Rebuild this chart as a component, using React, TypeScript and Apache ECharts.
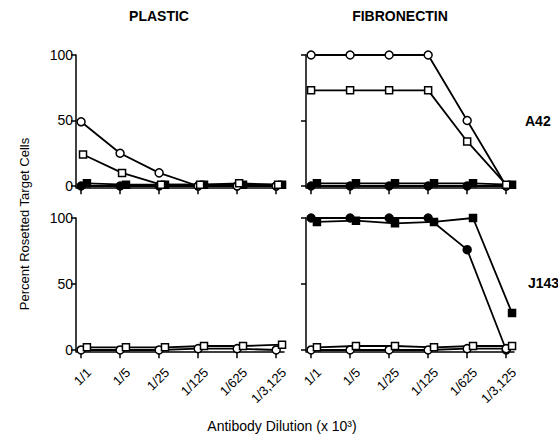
import React, { useEffect, useRef } from "react";
import * as echarts from "echarts";

const xLabels = ["1/1", "1/5", "1/25", "1/125", "1/625", "1/3,125"];
const yTicks = [0, 50, 100];
const panelTitles = ["PLASTIC", "FIBRONECTIN"];
const rowLabels = ["A42", "J143"];

// Plastic / A42
const plasticA42OpenCircle = [49, 25, 10, 0, 0, 0];
const plasticA42OpenSquare = [24, 10, 1, 1, 2, 1];
const plasticA42FilledCircle = [0, 0, 0, 0, 0, 0];
const plasticA42FilledSquare = [2, 1, 1, 1, 1, 1];
// Fibronectin / A42
const fibroA42OpenCircle = [100, 100, 100, 100, 50, 0];
const fibroA42OpenSquare = [73, 73, 73, 73, 34, 1];
const fibroA42FilledCircle = [0, 0, 0, 0, 0, 0];
const fibroA42FilledSquare = [2, 2, 2, 2, 2, 1];
// Plastic / J143
const plasticJ143OpenCircle = [0, 0, 0, 1, 1, 0];
const plasticJ143OpenSquare = [2, 2, 2, 3, 3, 4];
// Fibronectin / J143
const fibroJ143FilledCircle = [100, 100, 100, 100, 76, 0];
const fibroJ143FilledSquare = [97, 98, 96, 97, 100, 28];
const fibroJ143OpenCircle = [0, 0, 0, 0, 1, 1];
const fibroJ143OpenSquare = [2, 3, 3, 2, 3, 3];

const FONT = "'Liberation Sans Narrow', 'Liberation Sans', Arial, sans-serif";

export default function App() {
  const ref = useRef<HTMLDivElement>(null);
  useEffect(() => {
    if (!ref.current) return;
    const chart = echarts.init(ref.current, undefined, { renderer: "svg" });
    const W = 208;
    const grids = [
      { left: 76, top: 55, width: W, height: 132.3 },
      { left: 306, top: 55, width: W, height: 132.3 },
      { left: 76, top: 218, width: W, height: 133.3 },
      { left: 306, top: 218, width: W, height: 133.3 },
    ];
    const idx = [0, 1, 2, 3, 4, 5];
    const LABEL_SHIFT = 0.2;
    const labelPos = idx.map((i) => i + LABEL_SHIFT);
    const xAxes = grids.map((_, g) => ({
      type: "value",
      gridIndex: g,
      min: -0.13,
      max: 5.2,
      splitLine: { show: false },
      axisLine: { onZero: false, lineStyle: { color: "#000", width: 1.5 } },
      axisTick: { customValues: idx, length: 7, lineStyle: { color: "#000", width: 1.5 } },
      axisLabel: {
        show: g >= 2,
        customValues: labelPos,
        formatter: (v: number) => xLabels[Math.round(v - LABEL_SHIFT)] ?? "",
        rotate: 45,
        margin: 19,
        color: "#000",
        fontSize: 13,
        fontFamily: FONT,
      },
    }));
    const yAxes = grids.map((_, g) => ({
      type: "value",
      gridIndex: g,
      min: -1,
      max: 100,
      splitLine: { show: false },
      axisLine: { onZero: false, lineStyle: { color: "#000", width: 1.5 } },
      axisTick: { customValues: yTicks, length: 5, lineStyle: { color: "#000", width: 1.5 } },
      axisLabel: {
        show: g % 2 === 0,
        customValues: yTicks,
        margin: 3,
        color: "#000",
        fontSize: 14,
        fontFamily: FONT,
      },
    }));
    const mk = (
      g: number,
      vals: number[],
      shape: "circle" | "rect",
      filled: boolean,
      offset: number
    ) => ({
      type: "line",
      xAxisIndex: g,
      yAxisIndex: g,
      data: vals.map((v, i) => [i + offset, v]),
      symbol: shape,
      symbolSize: shape === "circle" ? 8 : 7,
      showSymbol: true,
      lineStyle: { color: "#000", width: 1.8 },
      itemStyle: { color: filled ? "#000" : "#fff", borderColor: "#000", borderWidth: 1.5 },
      z: filled ? 3 : 4,
    });
    const J = 0.15;
    const series = [
      mk(0, plasticA42FilledCircle, "circle", true, 0),
      mk(0, plasticA42FilledSquare, "rect", true, J),
      mk(0, plasticA42OpenCircle, "circle", false, 0),
      mk(0, plasticA42OpenSquare, "rect", false, 0.05),
      mk(1, fibroA42FilledCircle, "circle", true, 0),
      mk(1, fibroA42FilledSquare, "rect", true, J),
      mk(1, fibroA42OpenCircle, "circle", false, 0),
      mk(1, fibroA42OpenSquare, "rect", false, 0),
      mk(2, plasticJ143OpenCircle, "circle", false, 0),
      mk(2, plasticJ143OpenSquare, "rect", false, J),
      mk(3, fibroJ143OpenCircle, "circle", false, 0),
      mk(3, fibroJ143OpenSquare, "rect", false, J),
      mk(3, fibroJ143FilledCircle, "circle", true, 0),
      mk(3, fibroJ143FilledSquare, "rect", true, J),
    ];
    const txt = (
      text: string,
      x: number,
      y: number,
      opts: Record<string, unknown> = {}
    ) => ({
      type: "text",
      x,
      y,
      style: {
        text,
        fill: "#000",
        font: `${opts.bold ? "bold " : ""}${opts.size ?? 13}px ${FONT}`,
        textAlign: opts.align ?? "center",
        textVerticalAlign: "middle",
      },
      rotation: opts.rotation ?? 0,
    });
    chart.setOption({
      animation: false,
      backgroundColor: "#fff",
      grid: grids,
      xAxis: xAxes,
      yAxis: yAxes,
      series,
      graphic: [
        txt(panelTitles[0], 159, 16, { bold: true, size: 14 }),
        txt(panelTitles[1], 400, 16, { bold: true, size: 14 }),
        txt(rowLabels[0], 525, 121, { bold: true, size: 14, align: "left" }),
        txt(rowLabels[1], 528, 283, { bold: true, size: 14, align: "left" }),
        txt("Percent Rosetted Target Cells", 24, 224, { size: 13, rotation: Math.PI / 2 }),
        txt("Antibody Dilution (x 10³)", 282, 426, { size: 14 }),
      ],
    });
    return () => chart.dispose();
  }, []);
  return (
    <div
      ref={ref}
      style={{ position: "fixed", left: 0, top: 0, width: 558, height: 436 }}
    />
  );
}
